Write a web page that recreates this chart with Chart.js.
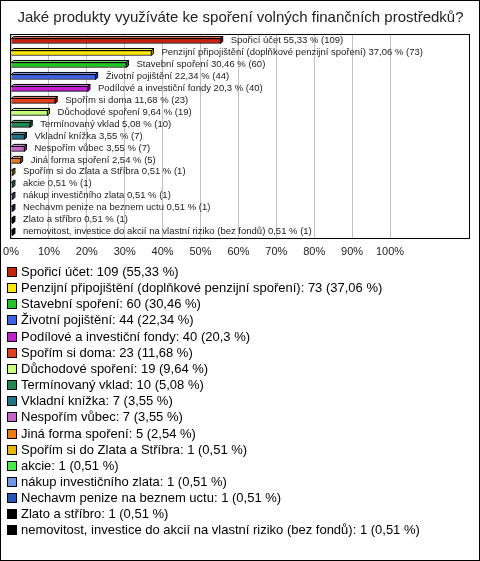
<!DOCTYPE html>
<html>
<head>
<meta charset="utf-8">
<script src="https://cdn.jsdelivr.net/npm/chart.js@4/dist/chart.umd.min.js"></script>
<style>
  html, body { margin: 0; padding: 0; background: #fff; }
  #wrap { position: relative; width: 478px; height: 559px; border: 1px solid #000; overflow: hidden; font-family: "Liberation Sans", Arial, sans-serif; }
  #c { position: absolute; left: 0; top: 0; }
  .lg { position: absolute; left: 0; height: 16px; line-height: 16px; font-size: 13px; color: #000; white-space: nowrap; }
  .lg .sw { position: absolute; left: 6px; top: 3px; width: 8px; height: 8px; border: 1px solid #000; }
  .lg .tx { position: absolute; left: 20px; top: 0; }
</style>
</head>
<body>
<div id="wrap">
  <canvas id="c" width="478" height="269"></canvas>
  <div id="legend"></div>
</div>
<script>
const title = "Jaké produkty využíváte ke spoření volných finančních prostředků?";
const categories = [
  "Spořicí účet",
  "Penzijní připojištění (doplňkové penzijní spoření)",
  "Stavební spoření",
  "Životní pojištění",
  "Podílové a investiční fondy",
  "Spořím si doma",
  "Důchodové spoření",
  "Termínovaný vklad",
  "Vkladní knížka",
  "Nespořím vůbec",
  "Jiná forma spoření",
  "Spořím si do Zlata a Stříbra",
  "akcie",
  "nákup investičního zlata",
  "Nechavm penize na beznem uctu",
  "Zlato a stříbro",
  "nemovitost, investice do akcií na vlastní riziko (bez fondů)"
];
const percents = [55.33, 37.06, 30.46, 22.34, 20.3, 11.68, 9.64, 5.08, 3.55, 3.55, 2.54, 0.51, 0.51, 0.51, 0.51, 0.51, 0.51];
const counts = [109, 73, 60, 44, 40, 23, 19, 10, 7, 7, 5, 1, 1, 1, 1, 1, 1];
const colors = [
  "#c8200c", "#ffe800", "#1ec81e", "#3a62e8", "#c21ed2", "#e2401a",
  "#c8ff7a", "#1e8a52", "#1e7488", "#c864cc", "#ee7a14", "#eab800",
  "#44ee44", "#6a98ee", "#2455bb", "#000000", "#000000"
];
const tickValues = [0, 10, 20, 30, 40, 50, 60, 70, 80, 90, 100];

const fmt = v => String(v).replace('.', ',');

// legend (HTML)
const legendEl = document.getElementById('legend');
categories.forEach((c, i) => {
  const row = document.createElement('div');
  row.className = 'lg';
  row.style.top = (263 + i * 16.15) + 'px';
  const sw = document.createElement('span');
  sw.className = 'sw';
  sw.style.background = colors[i];
  const tx = document.createElement('span');
  tx.className = 'tx';
  tx.textContent = c + ': ' + counts[i] + ' (' + fmt(percents[i]) + ' %)';
  row.appendChild(sw); row.appendChild(tx);
  legendEl.appendChild(row);
});

function shade(hex, f) {
  const n = parseInt(hex.slice(1), 16);
  let r = (n >> 16) & 255, g = (n >> 8) & 255, b = n & 255;
  if (f > 0) { r += (255 - r) * f; g += (255 - g) * f; b += (255 - b) * f; }
  else { r *= (1 + f); g *= (1 + f); b *= (1 + f); }
  return 'rgb(' + Math.round(r) + ',' + Math.round(g) + ',' + Math.round(b) + ')';
}

const frame = {
  id: 'frame',
  afterDatasetsDraw(chart) {
    const ctx = chart.ctx;
    const meta = chart.getDatasetMeta(0);
    const d = 2;
    ctx.save();
    ctx.lineWidth = 1;
    ctx.strokeStyle = '#000';
    meta.data.forEach((bar, i) => {
      const p = bar.getProps(['x', 'y', 'base', 'height'], true);
      const top = p.y - p.height / 2, bot = p.y + p.height / 2;
      const x0 = p.base, x1 = p.x;
      ctx.fillStyle = shade(colors[i], 0.35);
      ctx.beginPath();
      ctx.moveTo(x0, top); ctx.lineTo(x0 + d, top - d); ctx.lineTo(x1 + d, top - d); ctx.lineTo(x1, top); ctx.closePath();
      ctx.fill(); ctx.stroke();
      ctx.fillStyle = shade(colors[i], -0.35);
      ctx.beginPath();
      ctx.moveTo(x1, top); ctx.lineTo(x1 + d, top - d); ctx.lineTo(x1 + d, bot - d); ctx.lineTo(x1, bot); ctx.closePath();
      ctx.fill(); ctx.stroke();
      // label
      ctx.fillStyle = '#222';
      ctx.font = '9.5px "Liberation Sans", Arial, sans-serif';
      ctx.textBaseline = 'middle';
      ctx.textAlign = 'left';
      ctx.fillText(categories[i] + ' ' + fmt(percents[i]) + ' % (' + counts[i] + ')', x1 + 10, p.y - 1);
    });
    const a = chart.chartArea;
    ctx.strokeStyle = '#000';
    ctx.strokeRect(Math.round(a.left) - 0.5, Math.round(a.top) - 0.5, Math.round(a.right - a.left), Math.round(a.bottom - a.top));
    ctx.restore();
  }
};

new Chart(document.getElementById('c'), {
  type: 'bar',
  data: {
    labels: categories,
    datasets: [{
      data: percents,
      backgroundColor: colors,
      borderColor: '#000',
      borderWidth: 1,
      barThickness: 5
    }]
  },
  options: {
    indexAxis: 'y',
    responsive: false,
    animation: false,
    devicePixelRatio: 1,
    layout: { padding: { left: 10, right: 9, top: 0, bottom: 4 } },
    plugins: {
      legend: { display: false },
      tooltip: { enabled: false },
      title: {
        display: true,
        text: title,
        color: '#222',
        font: { size: 15, family: '"Liberation Sans", Arial, sans-serif', weight: 'normal' },
        padding: { top: 8, bottom: 8 }
      }
    },
    scales: {
      x: {
        min: 0,
        max: 121.1,
        afterBuildTicks(scale) { scale.ticks = tickValues.map(v => ({ value: v })); },
        afterFit(scale) { scale.paddingLeft = 0; scale.paddingRight = 0; },
        grid: { color: '#c0c0c0', drawTicks: false },
        border: { display: false },
        ticks: {
          padding: 7,
          color: '#222',
          font: { size: 11, family: '"Liberation Sans", Arial, sans-serif' },
          callback: v => v + '%',
          autoSkip: false,
          maxRotation: 0
        }
      },
      y: { display: false }
    }
  },
  plugins: [frame]
});
</script>
</body>
</html>
